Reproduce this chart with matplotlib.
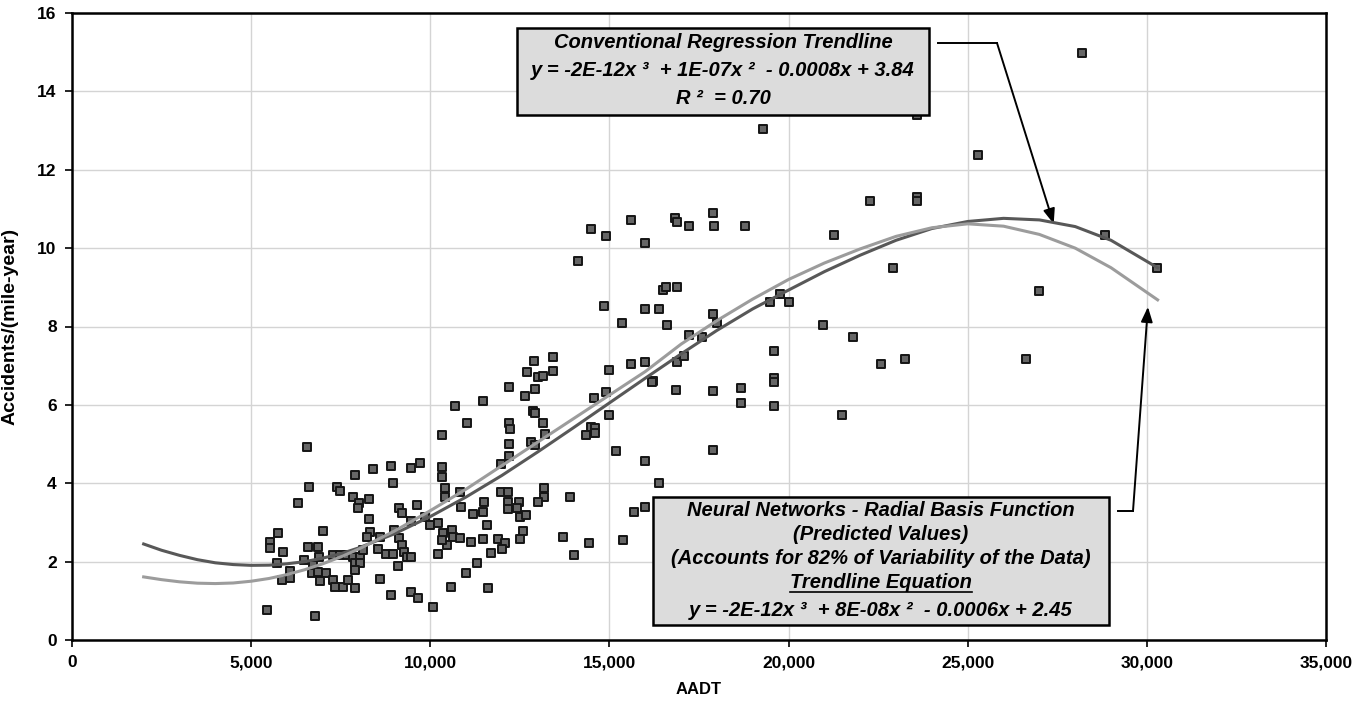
import matplotlib
matplotlib.use("Agg")
import matplotlib.pyplot as plt
from matplotlib import font_manager
from matplotlib.patches import Rectangle
from matplotlib.lines import Line2D
from matplotlib.ticker import FuncFormatter

# ---------------- data ----------------
aadt = [
    19290, 22270, 21270, 22910, 23580, 23580, 23580, 25290, 28190, 28830, 30280, 26990, 26630,
    20960, 21800, 22580, 23250, 21490, 14490, 14900, 15600,
    16830, 16890, 17220, 17890, 17920, 18780, 15990, 16490, 16580, 16890, 15990, 16380, 16610,
    17890, 18000, 17220, 17580, 19480, 19760, 20010, 19590, 19590, 19590, 15990, 16220, 16890,
    17080, 16860, 17890, 18670, 18670, 19590, 17890,
    14850, 15350, 15600, 16190, 14990, 14900, 14570, 14990, 14490, 14600, 14350, 14600, 15180,
    15990, 16380, 13420, 12890, 13420, 12700, 13010, 13150, 12200, 12920, 12640, 11470, 10690,
    12870, 12920, 11020, 12200, 12220, 13150, 13200, 12200, 12810, 12920, 12200, 11970, 10330,
    10330, 10330, 10410, 10410, 10830, 11970, 12170, 13170, 13170, 13010, 13900, 11500, 11470,
    11190, 10860, 12170, 12480, 12170, 12420, 12500, 12670, 11580, 12590, 12500, 13700, 14430,
    15380, 15690, 15990, 11470, 11890, 12080, 11140, 10610, 10630, 10830, 10350, 10470, 12000,
    11690, 11300, 11000, 10580, 11610, 10080, 14010, 14120,
    6560, 9710, 9460, 8900, 8400, 7900, 8960, 6610, 7400, 7480, 6310, 7840, 8010, 7980, 8290,
    9130, 9210, 9630, 9460, 8290, 9850, 9990, 10210, 10210, 10330, 8990, 9130, 9210, 9270, 9350,
    9460, 8320, 8230, 8600, 8540, 8760, 8960, 9100, 7010, 5750, 5530, 5530, 5890, 6590, 6870,
    6890, 6480, 7280, 7480, 7680, 7840, 8040, 8120, 7900, 8040, 5720, 6080, 6080, 5860, 6730,
    6700, 6870, 7090, 6920, 7280, 7340, 7560, 7700, 7900, 7900, 8600, 8900, 9460, 9660, 5440,
    6780,
]
accidents = [
    13.04, 11.20, 10.33, 9.49, 11.30, 11.20, 13.40, 12.37, 14.98, 10.33, 9.49, 8.90, 7.17,
    8.04, 7.73, 7.04, 7.17, 5.74, 10.49, 10.31, 10.72,
    10.77, 10.67, 10.57, 10.90, 10.57, 10.57, 10.13, 8.93, 9.01, 9.01, 8.45, 8.45, 8.04,
    8.32, 8.09, 7.78, 7.73, 8.63, 8.83, 8.63, 7.38, 6.69, 6.58, 7.09, 6.61, 7.09,
    7.25, 6.38, 6.35, 6.43, 6.05, 5.97, 4.85,
    8.52, 8.09, 7.04, 6.58, 6.89, 6.33, 6.18, 5.74, 5.44, 5.41, 5.23, 5.28, 4.82,
    4.57, 4.01, 7.22, 7.12, 6.86, 6.84, 6.71, 6.74, 6.46, 6.41, 6.23, 6.10, 5.97,
    5.84, 5.79, 5.54, 5.54, 5.38, 5.54, 5.26, 5.00, 5.05, 4.98, 4.70, 4.49, 5.23,
    4.41, 4.16, 3.88, 3.65, 3.78, 3.78, 3.78, 3.88, 3.65, 3.52, 3.65, 3.52, 3.27,
    3.22, 3.39, 3.52, 3.52, 3.34, 3.37, 3.14, 3.19, 2.93, 2.78, 2.58, 2.63, 2.48,
    2.55, 3.27, 3.39, 2.58, 2.58, 2.48, 2.50, 2.81, 2.63, 2.60, 2.73, 2.42, 2.32,
    2.22, 1.97, 1.71, 1.35, 1.33, 0.84, 2.17, 9.67,
    4.92, 4.52, 4.39, 4.44, 4.36, 4.21, 4.01, 3.90, 3.90, 3.80, 3.50, 3.65, 3.50, 3.37, 3.60,
    3.37, 3.24, 3.45, 3.04, 3.09, 3.14, 2.93, 2.99, 2.19, 2.55, 2.81, 2.60, 2.42, 2.25, 2.12,
    2.12, 2.76, 2.63, 2.63, 2.32, 2.19, 2.19, 1.89, 2.78, 2.73, 2.50, 2.35, 2.25, 2.37, 2.37,
    2.12, 2.04, 2.17, 2.17, 2.17, 2.12, 2.12, 2.30, 1.97, 1.97, 1.97, 1.76, 1.58, 1.53, 1.91,
    1.71, 1.74, 1.71, 1.51, 1.53, 1.35, 1.35, 1.53, 1.79, 1.33, 1.56, 1.15, 1.22, 1.07, 0.77,
    0.61,
]

curve_x = [2000, 2500, 3000, 3500, 4000, 4500, 5000, 5500, 6000, 6500, 7000, 7500, 8000,
           9000, 10000, 11000, 12000, 13000, 14000, 15000, 16000, 17000, 18000, 19000, 20000,
           21000, 22000, 23000, 24000, 25000, 26000, 27000, 28000, 29000, 30300]
conventional_y = [2.45, 2.29, 2.16, 2.05, 1.97, 1.925, 1.905, 1.91, 1.945, 2.00, 2.09, 2.20, 2.35,
                  2.71, 3.15, 3.65, 4.20, 4.80, 5.42, 6.05, 6.68, 7.30, 7.90, 8.45, 8.93,
                  9.40, 9.82, 10.20, 10.50, 10.68, 10.76, 10.72, 10.55, 10.20, 9.50]
neural_y = [1.61, 1.54, 1.485, 1.45, 1.44, 1.455, 1.50, 1.57, 1.67, 1.795, 1.945, 2.12, 2.32,
            2.78, 3.30, 3.85, 4.45, 5.05, 5.65, 6.25, 6.85, 7.55, 8.15, 8.70, 9.20,
            9.62, 9.98, 10.30, 10.52, 10.62, 10.56, 10.35, 10.00, 9.50, 8.68]

x_ticks = [0, 5000, 10000, 15000, 20000, 25000, 30000, 35000]
y_ticks = [0, 2, 4, 6, 8, 10, 12, 14, 16]

box1_lines = ["Conventional Regression Trendline",
              "y = -2E-12x \u00b3  + 1E-07x \u00b2  - 0.0008x + 3.84",
              "R \u00b2  = 0.70"]
box2_lines = ["Neural Networks - Radial Basis Function",
              "(Predicted Values)",
              "(Accounts for 82% of Variability of the Data)",
              "Trendline Equation",
              "y = -2E-12x \u00b3  + 8E-08x \u00b2  - 0.0006x + 2.45"]

# ---------------- fonts ----------------
avail = {f.name for f in font_manager.fontManager.ttflist}
narrow = "Liberation Sans Narrow" if "Liberation Sans Narrow" in avail else "Liberation Sans"
plt.rcParams["font.family"] = ["Liberation Sans", "DejaVu Sans"]

W, H = 1364, 705
fig = plt.figure(figsize=(W / 100, H / 100), dpi=100)
ax = fig.add_axes([72 / W, 1 - 640 / H, (1326 - 72) / W, (640 - 13) / H])

ax.set_xlim(0, 35000)
ax.set_ylim(0, 16)
ax.set_xticks(x_ticks)
ax.set_yticks(y_ticks)
ax.xaxis.set_major_formatter(FuncFormatter(lambda v, p: f"{int(v):,}"))
ax.grid(True, color="#d4d4d4", linewidth=1.0, zorder=0)
ax.set_axisbelow(True)
for s in ax.spines.values():
    s.set_linewidth(1.8)
    s.set_color("black")
ax.tick_params(axis="both", direction="out", length=5, width=1.2, pad=6)
for lab in ax.get_xticklabels() + ax.get_yticklabels():
    lab.set_fontfamily(narrow)
    lab.set_fontweight("bold")
    lab.set_fontsize(12.5)

ax.set_xlabel("AADT", fontfamily=narrow, fontweight="bold", fontsize=12)
ax.xaxis.set_label_coords(0.5, -(682 - 640) / 627)
ax.set_ylabel("Accidents/(mile-year)", fontfamily=narrow, fontweight="bold", fontsize=14)
ax.yaxis.set_label_coords(-(72 - 19) / 1254, 0.5)

ax.scatter(aadt, accidents, marker="s", s=34, facecolor="#666666", edgecolor="#151515",
           linewidth=1.4, zorder=3)
ax.plot(curve_x, conventional_y, color="#585858", linewidth=2.2, zorder=4)
ax.plot(curve_x, neural_y, color="#9c9c9c", linewidth=2.2, zorder=4)


def fx(px):
    return px / W


def fy(py):
    return 1 - py / H


def box(x0, y0, x1, y1):
    r = Rectangle((fx(x0), fy(y1)), fx(x1) - fx(x0), fy(y0) - fy(y1), transform=fig.transFigure,
                  facecolor="#dcdcdc", edgecolor="black", linewidth=1.8, zorder=10)
    fig.patches.append(r)


tprops = dict(fontweight="bold", fontstyle="italic", fontsize=14.5, ha="center", va="center",
              transform=fig.transFigure, zorder=11)

# top box
box(517, 28, 929, 115)
for line, py in zip(box1_lines, [43, 71, 99]):
    fig.text(fx(723), fy(py), line, **tprops)

# bottom box
box(653, 497, 1109, 625)
texts2 = []
for line, py in zip(box2_lines, [511, 535, 559, 583, 610]):
    texts2.append(fig.text(fx(881), fy(py), line, **tprops))

# arrows
fig.add_artist(Line2D([fx(938), fx(997)], [fy(43), fy(43)], color="black", linewidth=1.4,
                      transform=fig.transFigure))
ax.annotate("", xy=(27400, 10.62), xycoords="data", xytext=(fx(997), fy(43)),
            textcoords="figure fraction",
            arrowprops=dict(arrowstyle="-|>,head_length=0.9,head_width=0.35", color="black",
                            linewidth=1.4, shrinkA=0, shrinkB=0))
fig.add_artist(Line2D([fx(1118), fx(1133)], [fy(511), fy(511)], color="black", linewidth=1.4,
                      transform=fig.transFigure))
ax.annotate("", xy=(30030, 8.5), xycoords="data", xytext=(fx(1133), fy(511)),
            textcoords="figure fraction",
            arrowprops=dict(arrowstyle="-|>,head_length=0.9,head_width=0.35", color="black",
                            linewidth=1.4, shrinkA=0, shrinkB=0))

# underline "Trendline Equation"
fig.canvas.draw()
r = fig.canvas.get_renderer()
bb = texts2[3].get_window_extent(renderer=r)
uy = bb.y0 + 1
fig.add_artist(Line2D([bb.x0 / W, bb.x1 / W], [uy / H, uy / H], color="black", linewidth=1.2,
                      transform=fig.transFigure, zorder=12))

fig.savefig("out.png", dpi=100)
